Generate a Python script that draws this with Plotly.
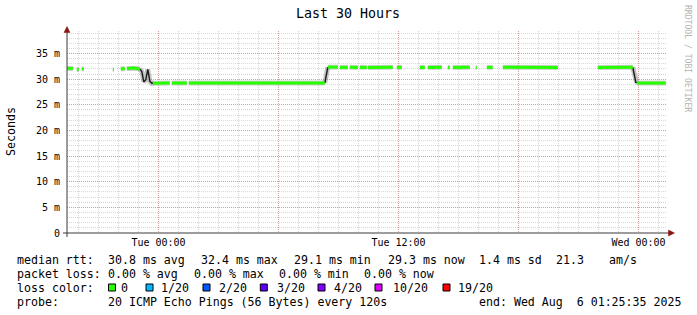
import plotly.graph_objects as go

# ---------------- data ----------------
# median RTT (ms); None = no data
rtt_time = [
    "2025-08-04 19:26", "2025-08-04 19:43", None,
    "2025-08-04 19:55", "2025-08-04 20:01", None,
    "2025-08-04 20:10", "2025-08-04 20:16", None,
    "2025-08-04 21:43", "2025-08-04 21:46", None,
    "2025-08-04 22:07", "2025-08-04 22:19", None,
    "2025-08-04 22:25", "2025-08-04 22:45", "2025-08-04 22:55", "2025-08-04 23:04", None,
    "2025-08-04 23:43", "2025-08-05 00:34", None,
    "2025-08-05 00:40", "2025-08-05 01:25", None,
    "2025-08-05 01:31", "2025-08-05 08:19", None,
    "2025-08-05 08:28", "2025-08-05 08:58", None,
    "2025-08-05 09:04", "2025-08-05 09:28", None,
    "2025-08-05 09:34", "2025-08-05 09:58", None,
    "2025-08-05 10:04", "2025-08-05 10:25", None,
    "2025-08-05 10:28", "2025-08-05 11:43", None,
    "2025-08-05 11:55", "2025-08-05 12:10", None,
    "2025-08-05 13:04", "2025-08-05 13:19", None,
    "2025-08-05 13:28", "2025-08-05 14:10", None,
    "2025-08-05 14:28", "2025-08-05 14:34", None,
    "2025-08-05 14:43", "2025-08-05 15:34", None,
    "2025-08-05 15:52", "2025-08-05 15:55", None,
    "2025-08-05 16:25", "2025-08-05 16:43", None,
    "2025-08-05 17:13", "2025-08-05 19:58", None,
    "2025-08-05 21:58", "2025-08-05 23:43", None,
    "2025-08-05 23:55", "2025-08-06 01:22",
]
rtt_ms = [
    32.1, 32.1, None,
    31.9, 31.9, None,
    32.0, 32.0, None,
    31.9, 31.9, None,
    32.0, 32.1, None,
    32.1, 32.2, 32.1, 32.0, None,
    29.2, 29.25, None,
    29.25, 29.25, None,
    29.25, 29.25, None,
    32.35, 32.35, None,
    32.3, 32.3, None,
    32.35, 32.3, None,
    32.3, 32.3, None,
    32.3, 32.35, None,
    32.3, 32.3, None,
    32.3, 32.3, None,
    32.3, 32.35, None,
    32.3, 32.3, None,
    32.3, 32.35, None,
    32.3, 32.3, None,
    32.3, 32.3, None,
    32.35, 32.3, None,
    32.3, 32.35, None,
    29.25, 29.25,
]
# steep transitions (drawn dark by the smoke)
trans_time = [
    "2025-08-04 23:04", "2025-08-04 23:10", "2025-08-04 23:16", "2025-08-04 23:22",
    "2025-08-04 23:28", "2025-08-04 23:34", "2025-08-04 23:40", "2025-08-04 23:46", None,
    "2025-08-05 08:19", "2025-08-05 08:28", None,
    "2025-08-05 23:43", "2025-08-05 23:52", "2025-08-05 23:55",
]
trans_ms = [
    32.0, 31.5, 29.5, 29.9, 31.9, 29.6, 29.2, 29.25, None,
    29.25, 32.35, None,
    32.3, 29.4, 29.25,
]

x_range = ["2025-08-04 19:25:35", "2025-08-06 01:25:35"]
x_ticks = ["2025-08-05 00:00", "2025-08-05 06:00", "2025-08-05 12:00",
           "2025-08-05 18:00", "2025-08-06 00:00"]
x_ticktext = ["Tue 00:00", "", "Tue 12:00", "", "Wed 00:00"]
y_ticks = [0, 5, 10, 15, 20, 25, 30, 35]
y_ticktext = ["0", "5 m", "10 m", "15 m", "20 m", "25 m", "30 m", "35 m"]

title_text = "Last 30 Hours"
y_title = "Seconds"
credit = "RRDTOOL / TOBI OETIKER"
rtt_label = "median rtt:"
rtt_stats = ["30.8 ms avg", "32.4 ms max", "29.1 ms min", "29.3 ms now",
             "1.4 ms sd", "21.3", "am/s"]
loss_label = "packet loss:"
loss_stats = ["0.00 % avg", "0.00 % max", "0.00 % min", "0.00 % now"]
color_label = "loss color:"
loss_names = ["0", "1/20", "2/20", "3/20", "4/20", "10/20", "19/20"]
loss_colors = ["#26ff00", "#00b8ff", "#0059ff", "#5e00ff", "#7e00ff", "#dd00ff", "#ff0000"]
probe_label = "probe:"
probe_text = "20 ICMP Echo Pings (56 Bytes) every 120s"
end_text = "end: Wed Aug\u00a0\u00a06 01:25:35 2025"

# ---------------- layout helpers ----------------
L, R, T, B = 67, 30, 31, 82
W, H = 697, 315
PW, PH = W - L - R, H - T - B
MONO = "DejaVu Sans Mono"


def px(x):
    return (x - L) / PW


def py(y):
    return (T + PH - y) / PH


fig = go.Figure()

# smoke (gray) behind everything
fig.add_trace(go.Scatter(x=rtt_time, y=rtt_ms, mode="lines",
                         line=dict(color="rgba(170,170,170,0.55)", width=5),
                         hoverinfo="skip", showlegend=False))
fig.add_trace(go.Scatter(x=trans_time, y=trans_ms, mode="lines",
                         line=dict(color="rgba(150,150,150,0.55)", width=5),
                         hoverinfo="skip", showlegend=False))
fig.add_trace(go.Scatter(x=trans_time, y=trans_ms, mode="lines",
                         line=dict(color="#1a1a1a", width=1.4),
                         hoverinfo="skip", showlegend=False))
# median line
fig.add_trace(go.Scatter(x=rtt_time, y=rtt_ms, mode="lines",
                         line=dict(color=loss_colors[0], width=3),
                         showlegend=False))

grid_major = "rgba(205,110,110,0.55)"
grid_minor = "rgba(150,150,150,0.38)"

fig.update_layout(
    width=W, height=H,
    margin=dict(l=L, r=R, t=T, b=B, pad=0),
    paper_bgcolor="white", plot_bgcolor="white",
    font=dict(family=MONO, size=10, color="black"),
    showlegend=False,
    xaxis=dict(type="date", range=x_range, tickmode="array",
               tickvals=x_ticks, ticktext=x_ticktext,
               showgrid=True, gridcolor=grid_major, griddash="1px,1px", gridwidth=1,
               ticks="", showline=False, zeroline=False,
               tickfont=dict(family=MONO, size=10),
               ticklabelstandoff=2,
               minor=dict(dtick=3600000, tick0="2025-08-05 00:00", showgrid=True,
                          gridcolor=grid_minor, griddash="1px,1px", gridwidth=1)),
    yaxis=dict(range=[0, 39.4], tickmode="array", tickvals=y_ticks, ticktext=y_ticktext,
               showgrid=True, gridcolor=grid_major, griddash="1px,1px", gridwidth=1,
               ticks="", showline=False, zeroline=False,
               tickfont=dict(family=MONO, size=10),
               ticklabelstandoff=6,
               minor=dict(dtick=1, showgrid=True, gridcolor=grid_minor,
                          griddash="1px,1px", gridwidth=1)),
)

shapes = []
axis_col = "#3a3a3a"
arrow_col = "#8b1414"
# axes lines
shapes.append(dict(type="line", xref="paper", yref="paper", x0=px(63), x1=px(669),
                   y0=py(233), y1=py(233), line=dict(color=axis_col, width=1)))
shapes.append(dict(type="line", xref="paper", yref="paper", x0=px(67), x1=px(67),
                   y0=py(237), y1=py(31), line=dict(color=axis_col, width=1)))
# arrows
shapes.append(dict(type="path", xref="paper", yref="paper",
                   path=f"M {px(64)},{py(32.5)} L {px(67)},{py(26.5)} L {px(70)},{py(32.5)} Z",
                   fillcolor=arrow_col, line=dict(color=arrow_col, width=0.5)))
shapes.append(dict(type="path", xref="paper", yref="paper",
                   path=f"M {px(668.5)},{py(230)} L {px(674.5)},{py(233)} L {px(668.5)},{py(236)} Z",
                   fillcolor=arrow_col, line=dict(color=arrow_col, width=0.5)))

annotations = []


def txt(x, y, s, size=11.6, color="black", anchor="left", angle=0):
    annotations.append(dict(text=s, x=px(x), y=py(y), xref="paper", yref="paper",
                            xanchor=anchor, yanchor="middle", showarrow=False,
                            textangle=angle, borderpad=0,
                            font=dict(family=MONO, size=size, color=color)))


txt(348, 14, title_text, size=13.3, anchor="center")
txt(11, 132, y_title, size=11.6, anchor="center", angle=-90)
txt(688, 58, credit, size=8.1, color="#b4b4b4", anchor="center", angle=90)

row1, row2, row3, row4 = 259.5, 273.5, 287.5, 301.5
txt(16, row1, rtt_label)
for s, x in zip(rtt_stats, [107.3, 200, 293.3, 386.7, 477.7, 554.7, 607.7]):
    txt(x, row1, s)
txt(16, row2, loss_label)
for s, x in zip(loss_stats, [107, 193.3, 278.3, 363.3]):
    txt(x, row2, s)
txt(16, row3, color_label)
for name, col, sx, tx in zip(loss_names, loss_colors,
                             [108.5, 146, 203, 260.3, 318, 375, 443],
                             [120, 160, 218.3, 276, 333.3, 391.7, 457.3]):
    shapes.append(dict(type="rect", xref="paper", yref="paper",
                       x0=px(sx), x1=px(sx + 7), y0=py(row3 + 3.5), y1=py(row3 - 3.5),
                       fillcolor=col, line=dict(color="black", width=1)))
    txt(tx, row3, name)
txt(16, row4, probe_label)
txt(107, row4, probe_text)
txt(478.3, row4, end_text)

fig.update_layout(shapes=shapes, annotations=annotations)
fig.write_html("out.html")
